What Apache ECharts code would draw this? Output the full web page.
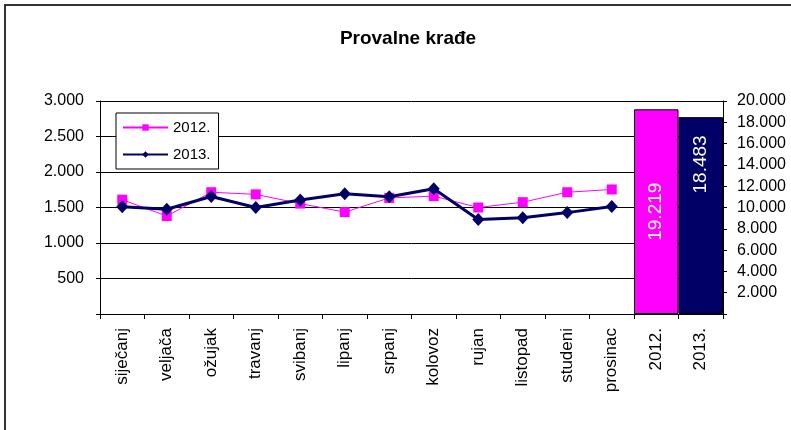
<!DOCTYPE html>
<html>
<head>
<meta charset="utf-8">
<script src="https://cdn.jsdelivr.net/npm/echarts@6/dist/echarts.min.js"></script>
<style>
  html, body { margin: 0; padding: 0; background: #fff; }
  #chart { width: 791px; height: 430px; }
</style>
</head>
<body>
<div id="chart"></div>
<script>
// Monthly burglaries (provalne krađe) with yearly totals
const months = ['siječanj', 'veljača', 'ožujak', 'travanj', 'svibanj', 'lipanj',
                'srpanj', 'kolovoz', 'rujan', 'listopad', 'studeni', 'prosinac'];
const years = ['2012.', '2013.'];
const monthly2012 = [1610, 1380, 1715, 1685, 1555, 1435, 1635, 1660, 1500, 1575, 1715, 1754];
const monthly2013 = [1510, 1476, 1654, 1500, 1606, 1693, 1650, 1765, 1332, 1356, 1428, 1513];
const totals = [19219, 18483];

const PINK = '#FF00FF';
const NAVY = '#000066';
const FONT = 'Liberation Sans, Arial, sans-serif';

// thousands separated with a dot
function fmt(v) {
  return String(Math.round(v)).replace(/\B(?=(\d{3})+(?!\d))/g, '.');
}

const categories = months.concat(years);
const pad = (arr) => arr.concat(years.map(() => '-'));

const totalBars = months.map(() => '-').concat([
  { value: totals[0], itemStyle: { color: PINK } },
  { value: totals[1], itemStyle: { color: NAVY },
    label: { position: ['50%', '24%'] } }
]);

const chart = echarts.init(document.getElementById('chart'), null, { renderer: 'canvas' });

chart.setOption({
  animation: false,
  backgroundColor: '#fff',
  textStyle: { fontFamily: FONT, color: '#000' },
  title: {
    text: 'Provalne krađe',
    left: 403, top: 24, textAlign: 'center',
    textStyle: { fontFamily: FONT, fontSize: 19, fontWeight: 'bold', color: '#000' }
  },
  graphic: [{
    type: 'rect', silent: true, z: -1,
    shape: { x: 5, y: 5, width: 800, height: 440 },
    style: { fill: null, stroke: '#333', lineWidth: 2 }
  }],
  legend: {
    orient: 'vertical',
    left: 116, top: 113,
    width: 102,
    padding: [7, 8, 7, 6],
    itemGap: 12,
    itemWidth: 45, itemHeight: 8,
    backgroundColor: '#fff',
    borderColor: '#000', borderWidth: 1,
    data: ['2012.', '2013.'],
    textStyle: { fontFamily: FONT, fontSize: 15, color: '#000' }
  },
  grid: { left: 100, right: 68, top: 101, bottom: 116, containLabel: false },
  xAxis: {
    type: 'category',
    data: categories,
    boundaryGap: true,
    axisLine: { lineStyle: { color: '#000', width: 1 } },
    axisTick: { show: true, length: 5, lineStyle: { color: '#000' } },
    axisLabel: {
      rotate: 90, margin: 14, interval: 0,
      fontFamily: FONT, fontSize: 17, color: '#000'
    },
    splitLine: { show: false }
  },
  yAxis: [{
    type: 'value', min: 0, max: 3000, interval: 500,
    axisLine: { show: true, lineStyle: { color: '#000' } },
    axisTick: { show: true, length: 4, lineStyle: { color: '#000' } },
    axisLabel: {
      margin: 16, fontFamily: FONT, fontSize: 16, color: '#000',
      formatter: (v) => v === 0 ? '' : fmt(v)
    },
    splitLine: { show: true, lineStyle: { color: '#000', width: 1 } }
  }, {
    type: 'value', min: 0, max: 20000, interval: 2000,
    position: 'right',
    axisLine: { show: true, lineStyle: { color: '#000' } },
    axisTick: { show: true, length: 4, lineStyle: { color: '#000' } },
    axisLabel: {
      margin: 14, fontFamily: FONT, fontSize: 16, color: '#000',
      formatter: (v) => v === 0 ? '' : fmt(v)
    },
    splitLine: { show: false }
  }],
  series: [{
    name: 'ukupno',
    type: 'bar',
    yAxisIndex: 1,
    data: totalBars,
    barWidth: '100%',
    barCategoryGap: 0,
    itemStyle: { borderColor: '#000', borderWidth: 1 },
    label: {
      show: true, position: ['50%', '50%'], rotate: 90,
      align: 'center', verticalAlign: 'middle',
      fontFamily: FONT, fontSize: 19, color: '#fff',
      formatter: (p) => fmt(p.value)
    },
    z: 1
  }, {
    name: '2012.',
    type: 'line',
    yAxisIndex: 0,
    data: pad(monthly2012),
    symbol: 'rect', symbolSize: 10,
    itemStyle: { color: PINK },
    lineStyle: { color: PINK, width: 1 },
    z: 3
  }, {
    name: '2013.',
    type: 'line',
    yAxisIndex: 0,
    data: pad(monthly2013),
    symbol: 'diamond', symbolSize: [12, 13],
    itemStyle: { color: NAVY },
    lineStyle: { color: NAVY, width: 3 },
    z: 4
  }]
});
</script>
</body>
</html>
